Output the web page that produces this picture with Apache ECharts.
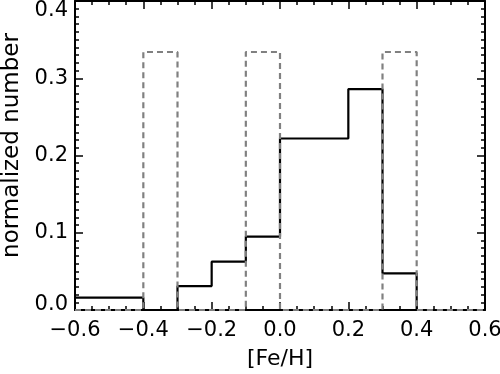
<!DOCTYPE html>
<html>
<head>
<meta charset="utf-8">
<script src="https://cdn.jsdelivr.net/npm/echarts@6/dist/echarts.min.js"></script>
<style>
  html, body { margin: 0; padding: 0; background: #fff; }
  #chart { width: 500px; height: 374px; }
</style>
</head>
<body>
<div id="chart"></div>
<script>
// bin left edges, width 0.1, last edge closes the histogram
const binEdges = [-0.6, -0.5, -0.4, -0.3, -0.2, -0.1, 0.0, 0.1, 0.2, 0.3, 0.4, 0.5, 0.6];
const sampleValues = [0.016, 0.016, 0.0, 0.031, 0.0625, 0.095, 0.222, 0.222, 0.286, 0.0475, 0.0, 0.0];
const clusterValues = [0.0, 0.0, 0.334, 0.0, 0.0, 0.334, 0.0, 0.0, 0.0, 0.334, 0.0, 0.0];
const xTicks = [-0.6, -0.4, -0.2, 0.0, 0.2, 0.4, 0.6];
const yTicks = [0.0, 0.1, 0.2, 0.3, 0.4];

const font = '"DejaVu Sans", sans-serif';
const labelSize = 21;

function stepPoints(values) {
  const pts = values.map((v, i) => [binEdges[i], v]);
  pts.push([binEdges[binEdges.length - 1], values[values.length - 1]]);
  return pts;
}

function fmt(v) {
  const s = Math.abs(v).toFixed(1);
  return v < -1e-9 ? '\u2212' + s : s;
}

// end labels of the y axis sit inside the frame, like the original
function fmtY(v) {
  if (Math.abs(v - yTicks[0]) < 1e-9) return '{lo|' + fmt(v) + '}';
  if (Math.abs(v - yTicks[yTicks.length - 1]) < 1e-9) return '{hi|' + fmt(v) + '}';
  return fmt(v);
}

const tickBase = {
  inside: true,
  length: 8,
  lineStyle: { color: '#000', width: 1.5 }
};
const minorX = { show: true, splitNumber: 4, length: 4, lineStyle: { color: '#000', width: 1.5 } };
const minorY = { show: true, splitNumber: 10, length: 4, lineStyle: { color: '#000', width: 1.5 } };
const frameLine = { onZero: false, lineStyle: { color: '#000', width: 2 } };

const chart = echarts.init(document.getElementById('chart'));

chart.setOption({
  animation: false,
  backgroundColor: '#fff',
  grid: { left: 75, right: 15, top: 1, bottom: 64, outerBoundsMode: 'none', containLabel: false },
  xAxis: [
    {
      type: 'value',
      min: xTicks[0],
      max: xTicks[xTicks.length - 1],
      interval: 0.2,
      name: '[Fe/H]',
      nameLocation: 'middle',
      nameGap: 38,
      nameTextStyle: { fontFamily: font, fontSize: 22, color: '#000' },
      axisLine: frameLine,
      axisTick: tickBase,
      minorTick: minorX,
      axisLabel: { formatter: fmt, fontFamily: font, fontSize: labelSize, color: '#000', margin: 10 },
      splitLine: { show: false }
    },
    {
      type: 'value',
      position: 'top',
      min: xTicks[0],
      max: xTicks[xTicks.length - 1],
      interval: 0.2,
      axisLine: frameLine,
      axisTick: tickBase,
      minorTick: minorX,
      axisLabel: { show: false },
      splitLine: { show: false }
    }
  ],
  yAxis: [
    {
      type: 'value',
      min: yTicks[0],
      max: yTicks[yTicks.length - 1],
      interval: 0.1,
      name: 'normalized number',
      nameLocation: 'middle',
      nameGap: 50,
      nameTextStyle: { fontFamily: font, fontSize: 23, color: '#000', padding: [0, 0, 0, 20] },
      axisLine: frameLine,
      axisTick: tickBase,
      minorTick: minorY,
      axisLabel: {
        formatter: fmtY,
        fontFamily: font,
        fontSize: labelSize,
        color: '#000',
        margin: 7,
        rich: {
          lo: { fontFamily: font, fontSize: labelSize, color: '#000', padding: [0, 0, 10, 0] },
          hi: { fontFamily: font, fontSize: labelSize, color: '#000', padding: [20, 0, 0, 0] }
        }
      },
      splitLine: { show: false }
    },
    {
      type: 'value',
      position: 'right',
      min: yTicks[0],
      max: yTicks[yTicks.length - 1],
      interval: 0.1,
      axisLine: frameLine,
      axisTick: tickBase,
      minorTick: minorY,
      axisLabel: { show: false },
      splitLine: { show: false }
    }
  ],
  series: [
    {
      type: 'line',
      step: 'end',
      data: stepPoints(sampleValues),
      symbol: 'none',
      lineStyle: { color: '#000', width: 2.2 },
      z: 2
    },
    {
      type: 'line',
      step: 'end',
      data: stepPoints(clusterValues),
      symbol: 'none',
      lineStyle: { color: '#808080', width: 2.2, type: [6, 4] },
      z: 3
    }
  ]
});
</script>
</body>
</html>
